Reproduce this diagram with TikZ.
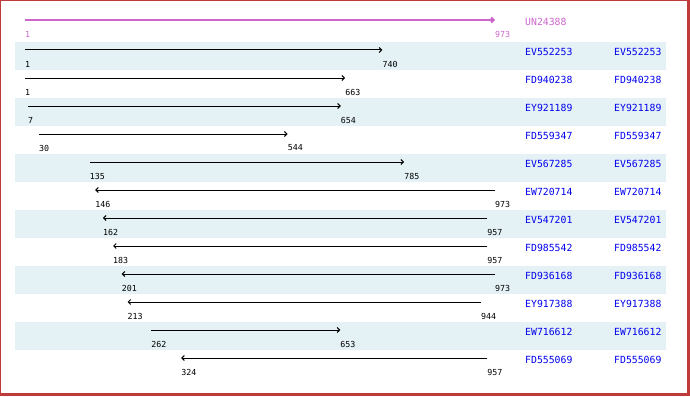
\documentclass[tikz,border=0pt]{standalone}
\usepackage{fontspec}
\setmonofont{DejaVu Sans Mono}
\usetikzlibrary{arrows.meta}
\definecolor{framered}{HTML}{C03A3A}
\definecolor{bandblue}{HTML}{E4F1F5}
\definecolor{accblue}{HTML}{0000EE}
\definecolor{querypink}{HTML}{CC66CC}

\begin{document}
\begin{tikzpicture}[x=1pt,y=-1pt,
    num/.style={anchor=west,inner sep=0pt,font=\ttfamily\fontsize{8.3}{9}\selectfont},
    acc/.style={anchor=west,inner sep=0pt,font=\ttfamily\fontsize{9.8}{11}\selectfont,text=accblue},
    hit/.style={line width=1pt,-{Straight Barb[length=2.5pt,width=5pt]}}]
  \useasboundingbox (0,0) rectangle (690,396);
  % alternating bands
  \foreach \i in {1,3,...,11}
    \fill[bandblue] (15,{42+(\i-1)*28}) rectangle (666,{42+\i*28});
  % query
  \coordinate (q1) at (25,20);
  \coordinate (q2) at (495,20);
  \draw[hit,line width=2pt,querypink] (q1) -- (q2);
  \node[num,text=querypink] (qs) at (25,34) {1};
  \node[num,text=querypink] (qe) at (495,34) {973};
  \node[acc,text=querypink] (query) at (525,22) {UN24388};
  % hits: row / name / from / to
  \foreach \i/\name/\a/\b in {1/EV552253/1/740, 2/FD940238/1/663,
      3/EY921189/7/654, 4/FD559347/30/544, 5/EV567285/135/785,
      6/EW720714/973/146, 7/EV547201/957/162, 8/FD985542/957/183,
      9/FD936168/973/201, 10/EY917388/944/213, 11/EW716612/262/653,
      12/FD555069/957/324} {
    \pgfmathsetmacro\xa{25+(\a-1)*0.48354}
    \pgfmathsetmacro\xb{25+(\b-1)*0.48354}
    \pgfmathsetmacro\rowy{42+(\i-1)*28}
    \coordinate (a\i) at (\xa,\rowy+8);
    \coordinate (b\i) at (\xb,\rowy+8);
    \draw[hit] (a\i) -- (b\i);
    \node[num] (na\i) at (\xa,\rowy+22) {\a};
    \node[num] (nb\i) at (\xb,\rowy+22) {\b};
    \node[acc] (hit\i) at (525,\rowy+10) {\name};
    \node[acc] (dup\i) at (614,\rowy+10) {\name};
  }
  % frame
  \draw[framered,line width=1pt] (0.5,0.5) rectangle (689.5,395.5);
  \fill[framered] (687,0) rectangle (690,396);
  \fill[framered] (0,393) rectangle (690,396);
\end{tikzpicture}
\end{document}
